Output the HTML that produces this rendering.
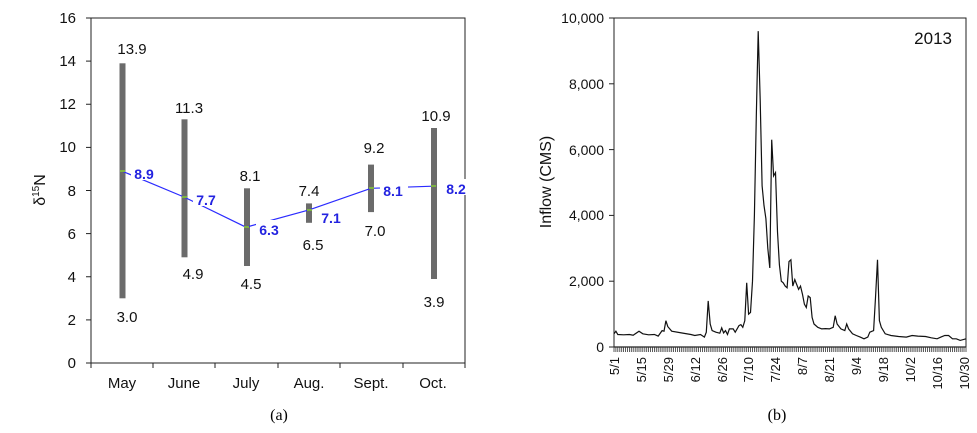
<!DOCTYPE html>
<html><head><meta charset="utf-8"><style>
html,body{margin:0;padding:0;background:#fff;width:977px;height:433px;overflow:hidden}
text{font-family:"Liberation Sans",Arial,sans-serif}
</style></head><body>
<svg width="977" height="433" viewBox="0 0 977 433" xmlns="http://www.w3.org/2000/svg">
<rect width="977" height="433" fill="#fff"/>
<!-- LEFT CHART -->
<g font-size="15" fill="#111">
<rect x="91" y="18" width="374" height="345" fill="none" stroke="#222" stroke-width="1"/>
<g stroke="#222" stroke-width="1">
<line x1="86" y1="363" x2="91" y2="363"/><line x1="86" y1="319.9" x2="91" y2="319.9"/><line x1="86" y1="276.75" x2="91" y2="276.75"/><line x1="86" y1="233.6" x2="91" y2="233.6"/><line x1="86" y1="190.5" x2="91" y2="190.5"/><line x1="86" y1="147.4" x2="91" y2="147.4"/><line x1="86" y1="104.25" x2="91" y2="104.25"/><line x1="86" y1="61.1" x2="91" y2="61.1"/><line x1="86" y1="18" x2="91" y2="18"/>
<line x1="91" y1="363" x2="91" y2="368"/><line x1="153" y1="363" x2="153" y2="368"/><line x1="215" y1="363" x2="215" y2="368"/><line x1="278" y1="363" x2="278" y2="368"/><line x1="340" y1="363" x2="340" y2="368"/><line x1="403" y1="363" x2="403" y2="368"/><line x1="465" y1="363" x2="465" y2="368"/>
</g>
<g text-anchor="end">
<text x="76" y="368">0</text><text x="76" y="325">2</text><text x="76" y="282">4</text><text x="76" y="239">6</text><text x="76" y="196">8</text><text x="76" y="152">10</text><text x="76" y="109">12</text><text x="76" y="66">14</text><text x="76" y="23">16</text>
</g>
<g text-anchor="middle">
<text x="122" y="388">May</text><text x="184" y="388">June</text><text x="246" y="388">July</text><text x="309" y="388">Aug.</text><text x="371" y="388">Sept.</text><text x="433" y="388">Oct.</text>
</g>
<text transform="translate(45,190) rotate(-90)" text-anchor="middle" font-size="16">δ<tspan font-size="10" dy="-6">15</tspan><tspan dy="6">N</tspan></text>
<g fill="#6b6b6b">
<rect x="119.5" y="63.3" width="6" height="235"/>
<rect x="181.5" y="119.3" width="6" height="138"/>
<rect x="244" y="188.3" width="6" height="77.7"/>
<rect x="306" y="203.4" width="6" height="19.4"/>
<rect x="368" y="164.6" width="6" height="47.5"/>
<rect x="431" y="128" width="6" height="151"/>
</g>
<polyline points="122,171.1 184,197 246,227.2 309,209.9 371,188.3 433,186.2" fill="none" stroke="#2b2bff" stroke-width="1.2"/>
<g fill="#7cb342">
<rect x="120" y="170" width="5" height="2"/><rect x="182" y="196" width="5" height="2"/><rect x="244" y="226" width="5" height="2"/><rect x="307" y="209" width="5" height="2"/><rect x="369" y="187" width="5" height="2"/><rect x="431" y="185" width="5" height="2"/>
</g>
<g fill="#fff">
<rect x="131" y="164" width="28" height="16"/><rect x="193" y="190" width="28" height="16"/><rect x="256" y="220" width="28" height="16"/><rect x="318" y="210" width="28" height="16"/><rect x="380" y="181" width="28" height="16"/><rect x="443" y="179" width="30" height="16"/>
</g>
<g fill="#2323e0" font-weight="bold" font-size="14" text-anchor="middle">
<text x="144" y="179">8.9</text><text x="206" y="205">7.7</text><text x="269" y="235">6.3</text><text x="331" y="223">7.1</text><text x="393" y="196">8.1</text><text x="456" y="194">8.2</text>
</g>
<g text-anchor="middle">
<text x="132" y="54">13.9</text><text x="127" y="322">3.0</text>
<text x="189" y="113">11.3</text><text x="193" y="279">4.9</text>
<text x="250" y="181">8.1</text><text x="251" y="289">4.5</text>
<text x="309" y="196">7.4</text><text x="313" y="250">6.5</text>
<text x="374" y="153">9.2</text><text x="375" y="236">7.0</text>
<text x="436" y="121">10.9</text><text x="434" y="307">3.9</text>
</g>
</g>
<text x="279" y="420" text-anchor="middle" font-size="16" style="font-family:'Liberation Serif',serif">(a)</text>

<!-- RIGHT CHART -->
<g font-size="14" fill="#111">
<rect x="614" y="18" width="352" height="329" fill="none" stroke="#222" stroke-width="1"/>
<g stroke="#222"><line x1="609" y1="347" x2="614" y2="347"/><line x1="609" y1="281.2" x2="614" y2="281.2"/><line x1="609" y1="215.4" x2="614" y2="215.4"/><line x1="609" y1="149.6" x2="614" y2="149.6"/><line x1="609" y1="83.8" x2="614" y2="83.8"/><line x1="609" y1="18" x2="614" y2="18"/></g>
<g text-anchor="end">
<text x="604" y="352">0</text><text x="604" y="286">2,000</text><text x="604" y="220">4,000</text><text x="604" y="155">6,000</text><text x="604" y="89">8,000</text><text x="604" y="23">10,000</text>
</g>
<path d="M614,347h352" stroke="#222" stroke-width="1.2"/>
<path stroke="#333" stroke-width="0.8" d="M614,347v5M615.9,347v5M617.8,347v5M619.8,347v5M621.7,347v5M623.6,347v5M625.5,347v5M627.5,347v5M629.4,347v5M631.3,347v5M633.2,347v5M635.2,347v5M637.1,347v5M639,347v5M640.9,347v5M642.8,347v5M644.8,347v5M646.7,347v5M648.6,347v5M650.5,347v5M652.5,347v5M654.4,347v5M656.3,347v5M658.2,347v5M660.2,347v5M662.1,347v5M664,347v5M665.9,347v5M667.8,347v5M669.8,347v5M671.7,347v5M673.6,347v5M675.5,347v5M677.5,347v5M679.4,347v5M681.3,347v5M683.2,347v5M685.2,347v5M687.1,347v5M689,347v5M690.9,347v5M692.8,347v5M694.8,347v5M696.7,347v5M698.6,347v5M700.5,347v5M702.5,347v5M704.4,347v5M706.3,347v5M708.2,347v5M710.2,347v5M712.1,347v5M714,347v5M715.9,347v5M717.8,347v5M719.8,347v5M721.7,347v5M723.6,347v5M725.5,347v5M727.5,347v5M729.4,347v5M731.3,347v5M733.2,347v5M735.2,347v5M737.1,347v5M739,347v5M740.9,347v5M742.8,347v5M744.8,347v5M746.7,347v5M748.6,347v5M750.5,347v5M752.5,347v5M754.4,347v5M756.3,347v5M758.2,347v5M760.2,347v5M762.1,347v5M764,347v5M765.9,347v5M767.8,347v5M769.8,347v5M771.7,347v5M773.6,347v5M775.5,347v5M777.5,347v5M779.4,347v5M781.3,347v5M783.2,347v5M785.2,347v5M787.1,347v5M789,347v5M790.9,347v5M792.8,347v5M794.8,347v5M796.7,347v5M798.6,347v5M800.5,347v5M802.5,347v5M804.4,347v5M806.3,347v5M808.2,347v5M810.2,347v5M812.1,347v5M814,347v5M815.9,347v5M817.8,347v5M819.8,347v5M821.7,347v5M823.6,347v5M825.5,347v5M827.5,347v5M829.4,347v5M831.3,347v5M833.2,347v5M835.2,347v5M837.1,347v5M839,347v5M840.9,347v5M842.8,347v5M844.8,347v5M846.7,347v5M848.6,347v5M850.5,347v5M852.5,347v5M854.4,347v5M856.3,347v5M858.2,347v5M860.2,347v5M862.1,347v5M864,347v5M865.9,347v5M867.8,347v5M869.8,347v5M871.7,347v5M873.6,347v5M875.5,347v5M877.5,347v5M879.4,347v5M881.3,347v5M883.2,347v5M885.2,347v5M887.1,347v5M889,347v5M890.9,347v5M892.8,347v5M894.8,347v5M896.7,347v5M898.6,347v5M900.5,347v5M902.5,347v5M904.4,347v5M906.3,347v5M908.2,347v5M910.2,347v5M912.1,347v5M914,347v5M915.9,347v5M917.8,347v5M919.8,347v5M921.7,347v5M923.6,347v5M925.5,347v5M927.5,347v5M929.4,347v5M931.3,347v5M933.2,347v5M935.2,347v5M937.1,347v5M939,347v5M940.9,347v5M942.8,347v5M944.8,347v5M946.7,347v5M948.6,347v5M950.5,347v5M952.5,347v5M954.4,347v5M956.3,347v5M958.2,347v5M960.2,347v5M962.1,347v5M964,347v5M966,347v5"/>
<g text-anchor="end" font-size="13">
<text transform="translate(619,357) rotate(-90)">5/1</text>
<text transform="translate(646,357) rotate(-90)">5/15</text>
<text transform="translate(673,357) rotate(-90)">5/29</text>
<text transform="translate(700,357) rotate(-90)">6/12</text>
<text transform="translate(727,357) rotate(-90)">6/26</text>
<text transform="translate(753,357) rotate(-90)">7/10</text>
<text transform="translate(780,357) rotate(-90)">7/24</text>
<text transform="translate(807,357) rotate(-90)">8/7</text>
<text transform="translate(834,357) rotate(-90)">8/21</text>
<text transform="translate(861,357) rotate(-90)">9/4</text>
<text transform="translate(888,357) rotate(-90)">9/18</text>
<text transform="translate(915,357) rotate(-90)">10/2</text>
<text transform="translate(942,357) rotate(-90)">10/16</text>
<text transform="translate(969,357) rotate(-90)">10/30</text>
</g>
<text transform="translate(551,182) rotate(-90)" text-anchor="middle" font-size="16">Inflow (CMS)</text>
<text x="952" y="44" text-anchor="end" font-size="17">2013</text>
<polyline fill="none" stroke="#111" stroke-width="1.2" points="614,333.8 615.9,331.2 617.8,334.5 623.6,334.8 629.4,334.5 633.2,335.2 639,331.2 642.8,333.8 648.6,334.8 654.4,334.5 658.2,336.1 662.1,330.6 664,331.2 665.9,320.7 667.8,326.6 671.7,331.2 681.3,332.9 690.9,334.5 694.8,335.5 700.5,334.5 704.4,337.1 706.3,332.2 708.2,300.9 710.2,324 712.1,330.6 715.9,332.2 719.8,333.2 721.7,327.9 723.6,332.9 725.5,330.6 727.5,334.5 729.4,328.9 733.2,328.9 735.2,332.2 737.1,328.9 739,325.6 740.9,324.6 742.8,327.3 744.8,320.7 746.7,282.8 748.6,314.1 750.5,312.5 752.5,281.2 754.4,215.4 756.3,116.7 758.2,31.2 760.2,100.3 762.1,185.8 764,205.5 765.9,218.7 767.8,248.3 769.8,268 771.7,139.7 773.6,175.9 775.5,172.6 777.5,231.9 779.4,264.8 781.3,281.2 783.2,282.8 785.2,286.1 787.1,287.8 789,261.5 790.9,259.8 792.8,286.1 794.8,279.6 796.7,284.5 798.6,289.4 800.5,286.1 802.5,294.4 804.4,304.2 806.3,307.5 808.2,296 810.2,297.6 812.1,317.4 814,324 817.8,327.3 821.7,328.9 825.5,328.6 829.4,328.9 833.2,327.3 835.2,315.7 837.1,324 840.9,328.9 844.8,330.6 846.7,324 848.6,328.9 852.5,333.8 856.3,335.5 860.2,337.1 864,338.8 867.8,337.1 869.8,332.2 873.6,330.6 875.5,297.6 877.5,259.8 879.4,320.7 881.3,327.3 885.2,333.8 890.9,335.5 898.6,336.5 906.3,337.1 912.1,335.5 917.8,336.1 925.5,336.5 931.3,337.8 937.1,338.8 940.9,337.1 944.8,335.5 948.6,335.5 952.5,338.8 956.3,338.8 960.2,340.4 966,338.8"/>
</g>
<text x="777" y="420" text-anchor="middle" font-size="16" style="font-family:'Liberation Serif',serif">(b)</text>
</svg>
</body></html>
